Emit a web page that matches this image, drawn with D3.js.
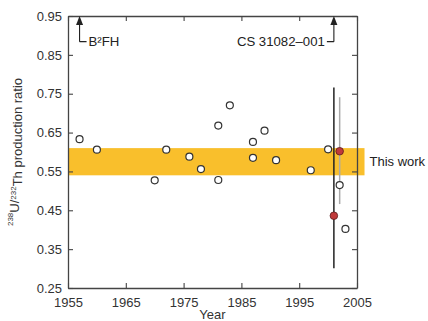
<!DOCTYPE html>
<html>
<head>
<meta charset="utf-8">
<script src="https://cdn.jsdelivr.net/npm/d3@7"></script>
<style>
  body { margin: 0; background: #fff; }
  svg { font-family: "Liberation Sans", Arial, sans-serif; }
</style>
</head>
<body>
<svg id="chart" width="428" height="321"></svg>
<script>
// earlier estimates (open circles)
let years = [1957, 1960, 1970, 1972, 1976, 1978, 1981, 1981, 1983, 1987, 1987, 1989, 1991, 1997, 2000, 2002, 2003];
let ratios = [0.633, 0.606, 0.527, 0.606, 0.588, 0.556, 0.528, 0.668, 0.720, 0.626, 0.585, 0.655, 0.579, 0.553, 0.607, 0.515, 0.402];

// measurements with error bars (red points)
let errYears = [2001, 2002];
let errRatios = [0.436, 0.602];
let errLow = [0.301, 0.466];
let errHigh = [0.766, 0.741];
let errColors = ["#222", "#aaa"];

// "This work" band
let bandLow = 0.54;
let bandHigh = 0.61;
let bandYears = [1955, 2006.3];

let xTicks = [1955, 1965, 1975, 1985, 1995, 2005];
let yTicks = [0.25, 0.35, 0.45, 0.55, 0.65, 0.75, 0.85, 0.95];

// annotations at top
let noteYears = [1957, 2001];
let noteLabels = ["B\u00b2FH", "CS 31082\u2013001"];
let noteSide = [1, -1];
let noteElbow = 0.884;

var svg = d3.select("#chart");
let margin = { top: 16, right: 71, bottom: 33, left: 68 };
let plotWidth = 428 - margin.left - margin.right;
let plotHeight = 321 - margin.top - margin.bottom;

let x = d3.scaleLinear().domain([1955, 2005]).range([0, plotWidth]);
let y = d3.scaleLinear().domain([0.25, 0.95]).range([plotHeight, 0]);

let plot = svg.append("g").attr("transform", "translate(" + margin.left + "," + margin.top + ")");

// band
plot.append("rect")
  .attr("x", x(bandYears[0]))
  .attr("width", x(bandYears[1]) - x(bandYears[0]))
  .attr("y", y(bandHigh))
  .attr("height", y(bandLow) - y(bandHigh))
  .attr("fill", "#f9bf2c");

plot.append("text")
  .attr("x", x(bandYears[1]) + 5)
  .attr("y", y((bandLow + bandHigh) / 2))
  .attr("dy", "0.35em")
  .attr("font-size", 13)
  .attr("fill", "#222")
  .text("This work");

// axes, ticks inward on all four sides
let tickLen = 5;
let axisColor = "#444";
let gx = plot.append("g").attr("transform", "translate(0," + plotHeight + ")")
  .call(d3.axisBottom(x).tickValues(xTicks).tickFormat(d3.format("d")).tickSizeInner(-tickLen).tickSizeOuter(0).tickPadding(10));
let gy = plot.append("g")
  .call(d3.axisLeft(y).tickValues(yTicks).tickFormat(d3.format(".2f")).tickSizeInner(-tickLen).tickSizeOuter(0).tickPadding(6));
let gt = plot.append("g")
  .call(d3.axisTop(x).tickValues(xTicks).tickFormat("").tickSizeInner(-tickLen).tickSizeOuter(0));
let gr = plot.append("g").attr("transform", "translate(" + plotWidth + ",0)")
  .call(d3.axisRight(y).tickValues(yTicks).tickFormat("").tickSizeInner(-tickLen).tickSizeOuter(0));

[gx, gy, gt, gr].forEach(function(g) {
  g.selectAll("path").attr("stroke", axisColor).attr("stroke-width", 1.3);
  g.selectAll("line").attr("stroke", axisColor).attr("stroke-width", 1.1);
  g.selectAll("text").attr("font-size", 13).attr("fill", "#333").attr("font-family", "Liberation Sans, Arial, sans-serif");
});

// error bars
plot.selectAll("line.err")
  .data(errYears)
  .enter().append("line")
  .attr("class", "err")
  .attr("x1", function(d) { return x(d); })
  .attr("x2", function(d) { return x(d); })
  .attr("y1", function(d, i) { return y(errHigh[i]); })
  .attr("y2", function(d, i) { return y(errLow[i]); })
  .attr("stroke", function(d, i) { return errColors[i]; })
  .attr("stroke-width", 1.5);

// open circles
plot.selectAll("circle.open")
  .data(years)
  .enter().append("circle")
  .attr("class", "open")
  .attr("cx", function(d) { return x(d); })
  .attr("cy", function(d, i) { return y(ratios[i]); })
  .attr("r", 3.5)
  .attr("fill", "#fff")
  .attr("stroke", "#333")
  .attr("stroke-width", 1.2);

// red points
plot.selectAll("circle.red")
  .data(errYears)
  .enter().append("circle")
  .attr("class", "red")
  .attr("cx", function(d) { return x(d); })
  .attr("cy", function(d, i) { return y(errRatios[i]); })
  .attr("r", 3.8)
  .attr("fill", "#c0393a")
  .attr("stroke", "#5a1a1a")
  .attr("stroke-width", 0.8);

// annotations: arrow from top axis with elbow + label
noteYears.forEach(function(yr, i) {
  let ax = x(yr);
  let ey = y(noteElbow);
  let s = noteSide[i];
  plot.append("path")
    .attr("d", "M" + ax + "," + ey + "V6H" + ax + "M" + ax + "," + ey + "H" + (ax + s * 7))
    .attr("fill", "none")
    .attr("stroke", "#222")
    .attr("stroke-width", 1.1);
  plot.append("path")
    .attr("d", "M" + ax + ",0L" + (ax - 3.5) + ",9L" + (ax + 3.5) + ",9Z")
    .attr("fill", "#222");
  plot.append("text")
    .attr("x", ax + s * 9)
    .attr("y", ey)
    .attr("dy", "0.35em")
    .attr("text-anchor", s > 0 ? "start" : "end")
    .attr("font-size", 13.2)
    .attr("fill", "#222")
    .text(noteLabels[i]);
});

// axis titles
svg.append("text")
  .attr("x", margin.left + plotWidth / 2)
  .attr("y", 319)
  .attr("text-anchor", "middle")
  .attr("font-size", 13)
  .attr("fill", "#333")
  .text("Year");

let yl = svg.append("text")
  .attr("transform", "translate(17," + (margin.top + plotHeight / 2) + ") rotate(-90)")
  .attr("text-anchor", "middle")
  .attr("font-size", 13)
  .attr("fill", "#333");
yl.append("tspan").attr("font-size", 8).attr("dy", "-0.45em").text("238");
yl.append("tspan").attr("dy", "0.45em").text("U/");
yl.append("tspan").attr("font-size", 8).attr("dy", "-0.45em").text("232");
yl.append("tspan").attr("dy", "0.45em").text("Th production ratio");
</script>
</body>
</html>
